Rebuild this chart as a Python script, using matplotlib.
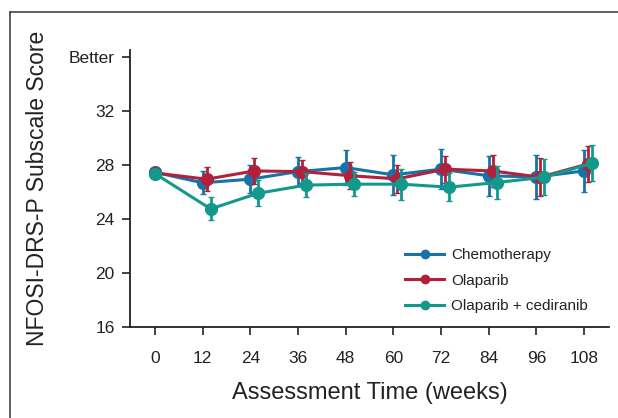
import matplotlib
matplotlib.use("Agg")
import matplotlib.pyplot as plt
from matplotlib.lines import Line2D
import numpy as np

weeks = [0, 12, 24, 36, 48, 60, 72, 84, 96, 108]
series_names = ["Chemotherapy", "Olaparib", "Olaparib + cediranib"]
chemo = [27.45, 26.67, 26.94, 27.50, 27.80, 27.26, 27.68, 27.19, 27.10, 27.55]
chemo_err = [0.15, 0.85, 1.05, 1.10, 1.30, 1.50, 1.50, 1.50, 1.60, 1.55]
olap = [27.40, 26.94, 27.55, 27.50, 27.20, 26.96, 27.68, 27.55, 27.09, 28.07]
olap_err = [0.15, 0.90, 0.95, 0.85, 1.00, 1.05, 1.00, 1.20, 1.40, 1.35]
combo = [27.35, 24.74, 25.90, 26.50, 26.57, 26.57, 26.35, 26.69, 27.09, 28.12]
combo_err = [0.15, 0.85, 0.95, 0.90, 0.90, 1.15, 1.05, 1.20, 1.35, 1.35]
colors = ["#1872aa", "#b3203a", "#12998c"]
offsets = [0.0, 1.0, 2.0]
ytick_vals = [16, 20, 24, 28, 32, 36]
ytick_labels = ["16", "20", "24", "28", "32", "Better"]

font = ["Liberation Sans Narrow", "Liberation Sans", "DejaVu Sans"]
plt.rcParams["font.family"] = font

fig = plt.figure(figsize=(6.18, 4.18), dpi=100)
ax = fig.add_axes([130/618, 1-327/418, (609-130)/618, (327-50)/418])

# outer frame
fig.add_artist(Line2D([10/618, 10/618], [0, 1-12/418], transform=fig.transFigure, color="#444444", lw=1.2))
fig.add_artist(Line2D([10/618, 1.01], [1-12/418, 1-12/418], transform=fig.transFigure, color="#444444", lw=1.2))

data = [(chemo, chemo_err), (olap, olap_err), (combo, combo_err)]
for i, ((vals, errs), name, c) in enumerate(zip(data, series_names, colors)):
    x = np.array(weeks, dtype=float) + np.where(np.array(weeks) == 0, 0.0, offsets[i])
    ax.errorbar(x, vals, yerr=errs, color=c, lw=2.2, elinewidth=2.0, capsize=2.0,
                capthick=2.0, marker="o", markersize=8.5, markeredgewidth=1.0,
                markeredgecolor=c, label=name, zorder=3 + i)

ax.set_xlim(-6.3, 114.3)
ax.set_ylim(16, 36.5)
ax.set_xticks(weeks)
ax.set_xticklabels([str(w) for w in weeks], fontsize=12.5)
ax.set_yticks(ytick_vals)
ax.set_yticklabels(ytick_labels, fontsize=12.5)
ax.spines["top"].set_visible(False)
ax.spines["right"].set_visible(False)
for s in ["left", "bottom"]:
    ax.spines[s].set_linewidth(1.3)
    ax.spines[s].set_color("#222222")
ax.tick_params(axis="both", length=6, width=1.2, color="#222222", labelcolor="#222222")
ax.tick_params(axis="x", pad=11)
ax.tick_params(axis="y", pad=5)

ax.set_xlabel("Assessment Time (weeks)", fontsize=17, color="#222222", labelpad=12)
ax.set_ylabel("NFOSI-DRS-P Subscale Score", fontsize=16.5, color="#222222", labelpad=14)

handles = [Line2D([0], [0], color=c, lw=2.2, marker="o", markersize=6) for c in colors]
leg = ax.legend(handles, series_names, loc="lower right", bbox_to_anchor=(0.985, 0.0),
                frameon=False, fontsize=11, handlelength=2.6, labelspacing=0.75,
                handletextpad=0.45)
for t in leg.get_texts():
    t.set_color("#222222")

fig.savefig("out.png", dpi=100)
